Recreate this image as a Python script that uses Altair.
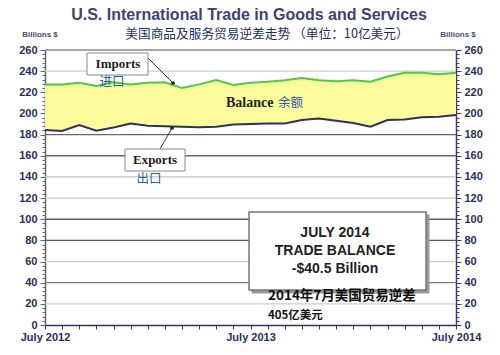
import altair as alt
import pandas as pd

# ---- data (billions of US dollars, monthly July 2012 .. July 2014) ----
month_idx = list(range(25))
imports = [227.5, 227.5, 229, 226, 229.5, 227.5, 229, 229.5, 224, 227.5, 231.5, 227,
           229, 230, 231.5, 233.5, 231.5, 230.5, 231.5, 230, 235, 238.5, 238.5, 237, 238.5]
exports = [184.3, 183.4, 189, 183.6, 186.8, 190.4, 188.3, 187.8, 187.5, 187, 187.5, 189.5,
           190, 190.6, 190.6, 193.8, 195.3, 193, 191, 187.5, 193.8, 194.4, 196.5, 197, 198.5]
x_tick_pos = [0, 12, 24]
x_tick_labels = ["July 2012", "July 2013", "July  2014"]
grid_vals = [260, 240, 220, 200, 180, 160, 140, 120, 100, 80, 60, 40, 20]
grid_cols = ["#8a8a8a", "#cccccc", "#cccccc", "#cccccc", "#6a6a6a", "#6a6a6a", "#c4c4c4",
             "#c4c4c4", "#5a5a5a", "#5a5a5a", "#cccccc", "#7a7a7a", "#cccccc"]
y_ticks = list(range(0, 261, 4)) + [260]

W, H = 411, 275
df = pd.DataFrame({"m": month_idx, "imports": imports, "exports": exports})
gdf = pd.DataFrame({"v": grid_vals, "c": grid_cols})
one = pd.DataFrame({"k": [0]})

label_expr = " : ".join(
    [f"datum.value == {p} ? '{l}'" for p, l in zip(x_tick_pos, x_tick_labels)]) + " : ''"

xscale = alt.Scale(domain=[0, 24], nice=False)
yscale = alt.Scale(domain=[0, 260], nice=False)
AX_FONT = "Liberation Sans"
AX_COL = "#26305e"

xaxis = alt.Axis(orient="bottom", title=None, values=month_idx, grid=False, labelExpr=label_expr,
                 labelOverlap=False, labelFont=AX_FONT, labelFontSize=11,
                 labelFontWeight="bold", labelColor=AX_COL, labelPadding=2,
                 labelBound=False, labelFlush=False,
                 domainColor="#333366", domainWidth=1.5, tickColor="#333366", tickSize=4)


def yaxis(orient, dom_col):
    return alt.Axis(orient=orient, title=None, values=y_ticks, grid=False,
                    labelExpr="datum.value % 20 === 0 ? datum.value : ''",
                    labelOverlap=False, labelFont=AX_FONT, labelFontSize=11,
                    labelFontWeight="bold", labelColor=AX_COL, labelPadding=3,
                    domainColor=dom_col, domainWidth=1.5, tickColor=dom_col,
                    tickSize={"condition": {"test": "datum.value % 20 === 0", "value": 5}, "value": 3})

grid = alt.Chart(gdf).mark_rule(strokeWidth=1.3).encode(
    y=alt.Y("v:Q", scale=yscale, axis=None),
    color=alt.Color("c:N", scale=None),
    x=alt.value(0), x2=alt.value(W))

area = alt.Chart(df).mark_area(color="#fbfb9c", opacity=1).encode(
    x=alt.X("m:Q", scale=xscale, axis=xaxis),
    y=alt.Y("exports:Q", scale=yscale, axis=yaxis("left", "#666666")),
    y2="imports:Q")

imp_line = alt.Chart(df).mark_line(color="#4ccf2e", strokeWidth=2).encode(
    x=alt.X("m:Q", scale=xscale, axis=xaxis),
    y=alt.Y("imports:Q", scale=yscale, axis=yaxis("right", "#3a3a8a")))

exp_line = alt.Chart(df).mark_line(color="#2c2c7c", strokeWidth=2).encode(
    x=alt.X("m:Q", scale=xscale, axis=xaxis),
    y=alt.Y("exports:Q", scale=yscale, axis=None))


def txt(s, x, y, size, color, font, weight="bold", align="center"):
    return alt.Chart(one).mark_text(text=s, fontSize=size, color=color, font=font,
                                    fontWeight=weight, align=align, baseline="middle").encode(
        x=alt.value(x), y=alt.value(y))


def box(x1, x2, y1, y2, fill="white", stroke="#888888", sw=1.0):
    return alt.Chart(one).mark_rect(fill=fill, stroke=stroke, strokeWidth=sw).encode(
        x=alt.value(x1), x2=alt.value(x2), y=alt.value(y1), y2=alt.value(y2))


def seg(x1, y1, x2, y2):
    return alt.Chart(one).mark_rule(color="#333333", strokeWidth=1).encode(
        x=alt.value(x1), y=alt.value(y1), x2=alt.value(x2), y2=alt.value(y2))


def dot(x, y):
    return alt.Chart(one).mark_point(filled=True, size=14, color="#222222", opacity=1).encode(
        x=alt.value(x), y=alt.value(y))

CJK = "Noto Sans CJK SC"
SERIF = "Liberation Serif"
BLUE = "#2a5caa"

annotations = [
    # Imports callout
    seg(103, 8, 128, 33), dot(128, 33),
    box(42, 103, 3, 25),
    txt("Imports", 73, 14, 13, "#222222", SERIF),
    txt("进口", 67, 32, 12.5, BLUE, CJK, weight="normal"),
    # Exports callout
    seg(115, 99, 127, 78), dot(127, 78),
    box(80, 140, 99, 121),
    txt("Exports", 110, 110, 13, "#222222", SERIF),
    txt("出口", 104, 129, 12.5, BLUE, CJK, weight="normal"),
    # Balance
    txt("Balance", 181, 53, 14, "#222222", SERIF, align="left"),
    txt("余额", 233, 53, 12.5, BLUE, CJK, weight="normal", align="left"),
    # big box
    box(207, 384, 165, 243, fill="#9a9a9a", stroke="#9a9a9a"),
    box(204, 381, 162, 240, fill="white", stroke="#777777", sw=1.5),
    txt("JULY 2014", 290, 183, 14, "#222222", AX_FONT),
    txt("TRADE BALANCE", 290, 201, 14, "#222222", AX_FONT),
    txt("-$40.5 Billion", 290, 219, 14, "#222222", AX_FONT),
    txt("2014年7月美国贸易逆差", 223, 246, 13.5, "#111111", CJK, align="left"),
    txt("405亿美元", 223, 266, 11.5, "#111111", CJK, align="left"),
    # titles
    txt("U.S. International Trade in Goods and Services", 204, -35, 16, "#3d3f7e", AX_FONT),
    txt("美国商品及服务贸易逆差走势 （单位：10亿美元）", 222, -16, 12.7, "#1c2d6e", CJK,
        weight="normal"),
    txt("Billions $", -5, -15, 8, "#4a5070", AX_FONT),
    txt("Billions $", 413, -15, 8, "#4a5070", AX_FONT),
]

chart = alt.layer(grid, area, imp_line, exp_line, *annotations).resolve_axis(
    y="independent").properties(
    width=W, height=H,
    autosize=alt.AutoSizeParams(type="none"),
    padding={"left": 45, "top": 50, "right": 44, "bottom": 30},
    background="white",
).configure_view(stroke=None)

chart.save("out.html", embed_options={"renderer": "svg", "actions": False})
